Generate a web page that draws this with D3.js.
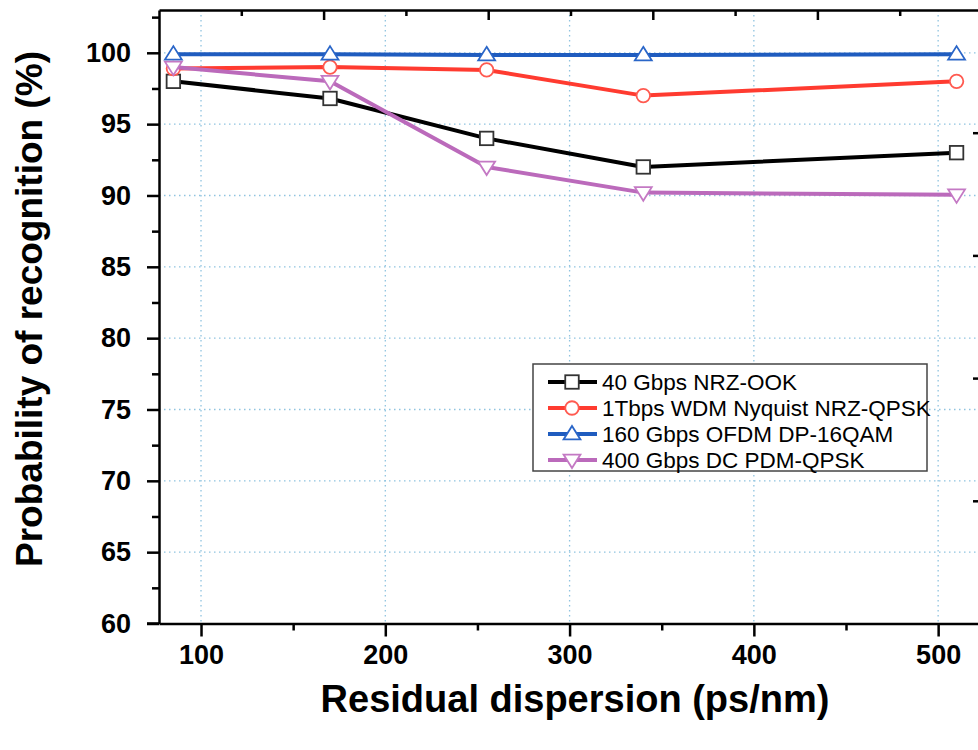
<!DOCTYPE html>
<html>
<head>
<meta charset="utf-8">
<script src="https://cdn.jsdelivr.net/npm/d3@7"></script>
<style>
  html, body { margin: 0; padding: 0; background: #fff; }
  svg { display: block; font-family: "Liberation Sans", Arial, sans-serif; }
</style>
</head>
<body>
<svg id="chart" width="978" height="750"></svg>
<script>
// ---- data ----
const dispersion = [85, 170, 255, 340, 510];
const seriesNames = ["40 Gbps NRZ-OOK", "1Tbps WDM Nyquist NRZ-QPSK", "160 Gbps OFDM DP-16QAM", "400 Gbps DC PDM-QPSK"];
const nrzOok   = [98.0, 96.8, 94.0, 92.0, 93.0];
const nyquist  = [98.9, 99.0, 98.8, 97.0, 98.0];
const ofdm     = [99.9, 99.9, 99.85, 99.85, 99.9];
const pdmQpsk  = [99.0, 98.0, 92.0, 90.2, 90.05];
const xTickValues = [100, 200, 300, 400, 500];
const yTickValues = [60, 65, 70, 75, 80, 85, 90, 95, 100];
const xTitle = "Residual dispersion (ps/nm)";
const yTitle = "Probability of recognition (%)";

const seriesValues = [nrzOok, nyquist, ofdm, pdmQpsk];
const colors = ["#000000", "#ff3b30", "#1f5cbf", "#bb6abb"];
const markerStroke = ["#333333", "#ff5a50", "#2a66c8", "#c479c4"];
const shapes = ["square", "circle", "triangle", "triangleDown"];

const svg = d3.select("#chart");
const L = 159, R = 982, T = 10, B = 623.5;

const x = d3.scaleLinear().domain([77.2, 523.8]).range([L, R]);
const y = d3.scaleLinear().domain([60, 103]).range([B, T]);
const xTop = d3.scaleLinear().domain([0, 10]).range([L, R]);
const yRight = d3.scaleLinear().domain([0, 5]).range([B, T]);

// grid
const grid = svg.append("g").attr("stroke", "#8fc3e0").attr("stroke-width", 1.3)
  .attr("stroke-dasharray", "1.5,3.5").attr("fill", "none");
grid.selectAll("line.v").data(xTickValues).join("line").attr("class", "v")
  .attr("x1", d => x(d)).attr("x2", d => x(d)).attr("y1", T).attr("y2", B);
grid.selectAll("line.h").data(yTickValues.filter(v => v > 60)).join("line").attr("class", "h")
  .attr("y1", d => y(d)).attr("y2", d => y(d)).attr("x1", L).attr("x2", R);

// axes
const tickFont = "bold 27px 'Liberation Sans', Arial, sans-serif";
svg.append("g").attr("transform", `translate(0,${B})`)
  .call(d3.axisBottom(x).tickValues(xTickValues).tickSize(13).tickPadding(8).tickSizeOuter(0));
const xMinor = svg.append("g").attr("transform", `translate(0,${B})`)
  .call(d3.axisBottom(x).tickValues([150, 250, 350, 450]).tickSize(7).tickFormat("").tickSizeOuter(0));
xMinor.select(".domain").remove();

svg.append("g").attr("transform", `translate(${L},0)`)
  .call(d3.axisLeft(y).tickValues(yTickValues).tickSize(12).tickPadding(16).tickSizeOuter(0));
const yMinor = svg.append("g").attr("transform", `translate(${L},0)`)
  .call(d3.axisLeft(y).tickValues(d3.range(62.5, 103, 5)).tickSize(7).tickFormat("").tickSizeOuter(0));
yMinor.select(".domain").remove();

svg.append("g").attr("transform", `translate(0,${T})`)
  .call(d3.axisTop(xTop).tickValues([2, 4, 6, 8]).tickSize(-10).tickFormat("").tickSizeOuter(0));
const topMinor = svg.append("g").attr("transform", `translate(0,${T})`)
  .call(d3.axisTop(xTop).tickValues([1, 3, 5, 7, 9]).tickSize(-6).tickFormat("").tickSizeOuter(0));
topMinor.select(".domain").remove();

svg.append("g").attr("transform", `translate(${R},0)`)
  .call(d3.axisRight(yRight).tickValues([1, 2, 3, 4]).tickSize(-9).tickFormat("").tickSizeOuter(0));

svg.selectAll(".domain").attr("stroke", "#000").attr("stroke-width", 2.5);
svg.selectAll(".tick line").attr("stroke", "#000").attr("stroke-width", 2.5);
svg.selectAll(".tick text").style("font", tickFont).attr("fill", "#000");
svg.append("line").attr("x1", L - 12).attr("x2", L).attr("y1", B).attr("y2", B)
  .attr("stroke", "#000").attr("stroke-width", 2.5);

// series
function marker(g, shape, size) {
  if (shape === "square") {
    g.append("rect").attr("x", -size / 2).attr("y", -size / 2).attr("width", size).attr("height", size);
  } else if (shape === "circle") {
    g.append("circle").attr("r", size / 2);
  } else if (shape === "triangle") {
    const w = size * 1.25, h = size * 1.0;
    g.append("path").attr("d", `M0,${-h * 0.6}L${w / 2},${h * 0.4}L${-w / 2},${h * 0.4}Z`);
  } else {
    const w = size * 1.25, h = size * 1.0;
    g.append("path").attr("d", `M0,${h * 0.6}L${w / 2},${-h * 0.4}L${-w / 2},${-h * 0.4}Z`);
  }
}

const line = d3.line().x(d => x(d[0])).y(d => y(d[1]));
seriesValues.forEach((vals, i) => {
  const pts = dispersion.map((d, j) => [d, vals[j]]);
  const g = svg.append("g");
  g.append("path").datum(pts).attr("d", line).attr("fill", "none")
    .attr("stroke", colors[i]).attr("stroke-width", 4).attr("stroke-linejoin", "round");
  pts.forEach(p => {
    const m = g.append("g").attr("transform", `translate(${x(p[0])},${y(p[1])})`)
      .attr("fill", "#fff").attr("stroke", markerStroke[i]).attr("stroke-width", 1.8);
    marker(m, shapes[i], 13.5);
  });
});

// legend
const lg = svg.append("g");
lg.append("rect").attr("x", 533).attr("y", 364).attr("width", 394).attr("height", 107)
  .attr("fill", "#fff").attr("stroke", "#444").attr("stroke-width", 1.5);
seriesNames.forEach((name, i) => {
  const cy = 382 + i * 26;
  lg.append("line").attr("x1", 548).attr("x2", 597).attr("y1", cy).attr("y2", cy)
    .attr("stroke", colors[i]).attr("stroke-width", 4);
  const m = lg.append("g").attr("transform", `translate(572,${cy})`)
    .attr("fill", "#fff").attr("stroke", markerStroke[i]).attr("stroke-width", 1.8);
  marker(m, shapes[i], 13.5);
  lg.append("text").attr("x", 602).attr("y", cy).attr("dy", "0.36em")
    .style("font", "22.5px 'Liberation Sans', Arial, sans-serif").attr("fill", "#000").text(name);
});

// titles
svg.append("text").attr("x", 575).attr("y", 712).attr("text-anchor", "middle")
  .style("font", "bold 38px 'Liberation Sans', Arial, sans-serif").attr("fill", "#000").text(xTitle);
svg.append("text").attr("transform", "translate(42,309) rotate(-90)").attr("text-anchor", "middle")
  .style("font", "bold 37px 'Liberation Sans', Arial, sans-serif").attr("fill", "#000").text(yTitle);
</script>
</body>
</html>
